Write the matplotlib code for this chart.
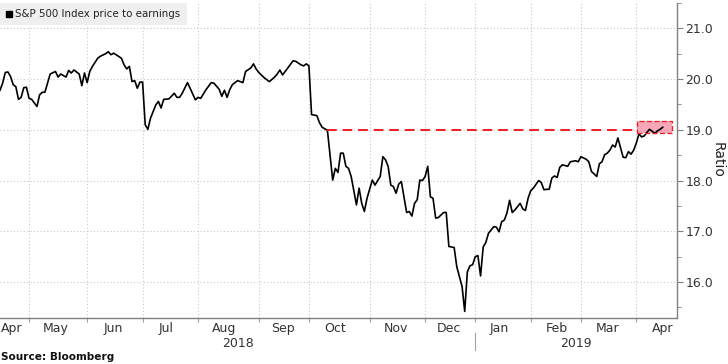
import matplotlib
matplotlib.use("Agg")
import matplotlib.pyplot as plt
import matplotlib.patches as mpatches
from matplotlib.lines import Line2D
import numpy as np
import pandas as pd

# ---- data -------------------------------------------------------------
title = "S&P 500 Index price to earnings"
source = "Source: Bloomberg"
y_label = "Ratio"
start_date = "2018-04-16"
end_date = "2019-04-30"
market_holidays = ["2018-05-28", "2018-07-04", "2018-09-03", "2018-11-22",
                   "2018-12-05", "2018-12-25", "2019-01-01", "2019-01-21",
                   "2019-02-18"]
# trading-day index from start_date
days = [0, 1, 2, 3, 4, 5, 6, 7, 8, 9, 10, 11, 12, 14, 15, 16, 17, 19, 21, 22,
        23, 25, 26, 27, 28, 30, 31, 32, 33, 34, 35, 37, 38, 40, 41, 42, 43, 44,
        46, 47, 48, 49, 50, 51, 52, 53, 54, 55, 56, 57, 59, 60, 61, 62, 64, 66,
        67, 68, 69, 71, 72, 74, 75, 76, 78, 80, 81, 83, 84, 85, 86, 87, 88, 90,
        92, 93, 95, 96, 97, 98, 100, 102, 104, 105, 106, 107, 108, 109, 111,
        112, 114, 115, 116, 117, 118, 120, 121, 122, 123, 124, 125, 126, 127,
        128, 129, 130, 131, 132, 133, 135, 136, 137, 138, 139, 141, 142, 144,
        145, 146, 147, 148, 149, 150, 151, 152, 154, 155, 156, 157, 158, 159,
        160, 161, 162, 163, 164, 165, 166, 168, 169, 170, 172, 173, 175, 176,
        177, 178, 179, 180, 181, 182, 183, 184, 185, 187, 188, 189, 190, 191,
        192, 193, 194, 195, 197, 198, 199, 200, 201, 202, 204, 205, 206, 208,
        209, 210, 211, 212, 213, 215, 216, 218, 219, 220, 222, 223, 224, 226,
        227, 228, 229, 230, 231, 232, 233, 234, 236, 237, 238, 239, 240, 241,
        242, 243, 244, 245, 246, 247, 248, 249, 250, 251]
pe_ratio = [19.78, 19.92, 20.13, 20.14, 20.05, 19.89, 19.85, 19.60, 19.64, 19.83,
            19.84, 19.62, 19.60, 19.46, 19.69, 19.74, 19.74, 20.10, 20.15, 20.04,
            20.10, 20.04, 20.17, 20.12, 20.18, 20.10, 19.87, 20.12, 19.93, 20.15,
            20.25, 20.41, 20.45, 20.50, 20.54, 20.48, 20.51, 20.48,
            20.41, 20.28, 20.20, 20.25, 19.95, 19.97, 19.82, 19.94, 19.94, 19.10,
            19.01, 19.23, 19.49, 19.56, 19.43, 19.60, 19.61, 19.72,
            19.64, 19.64, 19.72, 19.93, 19.82, 19.59, 19.64, 19.62, 19.79, 19.93,
            19.92, 19.80, 19.66, 19.78, 19.64, 19.79, 19.89, 19.97,
            19.93, 20.15, 20.22, 20.30, 20.20, 20.13, 20.03, 19.95, 20.04, 20.10,
            20.18, 20.08, 20.15, 20.22, 20.36,
            20.35, 20.28, 20.26, 20.30, 20.26, 19.30, 19.28, 19.14, 19.05, 19.02,
            18.99, 18.51, 18.01, 18.24,
            18.16, 18.54, 18.54, 18.28, 18.24, 18.08, 17.52, 17.85, 17.55, 17.39,
            17.65, 18.01, 17.91, 18.08,
            18.47, 18.41, 18.28, 17.91, 17.88, 17.75, 17.93, 17.98, 17.37, 17.39,
            17.30, 17.55, 17.62, 18.01,
            18.00, 18.08, 18.28, 17.68, 17.65, 17.26, 17.27, 17.37, 17.37, 16.70,
            16.68, 16.30, 15.91, 15.42,
            16.20, 16.32, 16.34, 16.50, 16.52, 16.12, 16.69, 16.78, 16.96, 17.09,
            17.08, 16.99, 17.19, 17.22,
            17.36, 17.61, 17.37, 17.42, 17.55, 17.44, 17.41, 17.65, 17.80, 17.85,
            18.00, 17.96, 17.82, 17.83,
            18.05, 18.09, 18.06, 18.26, 18.31, 18.28, 18.37, 18.39, 18.37, 18.47,
            18.42, 18.37, 18.18, 18.08,
            18.33, 18.37, 18.51, 18.54, 18.60, 18.70, 18.66, 18.84, 18.46, 18.45,
            18.57, 18.52, 18.60, 18.74,
            18.92, 18.86, 18.88, 18.95, 19.01, 18.97, 18.93, 18.98, 19.01, 19.05]
ref_level = 19.0
ref_start_day = 124
box_start_day = 241.4
box_end_day = 254.5
box_low = 18.93
box_high = 19.18
y_ticks = [16.0, 17.0, 18.0, 19.0, 20.0, 21.0]
x_max_day = 256.4
y_min, y_max = 15.29, 21.5

# ---- calendar ---------------------------------------------------------
cal = pd.bdate_range(start_date, end_date, freq="C", holidays=market_holidays)
cal_s = pd.Series(np.arange(len(cal)), index=cal)
month_keys = [(d.year, d.month) for d in cal]
month_first = {}
for i, k in enumerate(month_keys):
    month_first.setdefault(k, i)
months = sorted(month_first)

# ---- figure -----------------------------------------------------------
W, H = 728, 364
fig = plt.figure(figsize=(W / 100, H / 100), dpi=100)
ax = fig.add_axes([0, 1 - 318 / H, 677 / W, 315 / H])

grid_kw = dict(color="#c8c8c8", linewidth=0.8, linestyle=(0, (1, 2)))
ax.plot(days, pe_ratio, color="black", linewidth=1.2, zorder=3)
ax.plot([ref_start_day, box_start_day], [ref_level, ref_level], color="#ee1c25",
        linewidth=1.4, linestyle=(0, (5, 3)), zorder=4)
ax.add_patch(mpatches.Rectangle((box_start_day, box_low), box_end_day - box_start_day,
                                box_high - box_low, facecolor="#f58a9f", alpha=0.75,
                                edgecolor="none", zorder=2))
ax.add_patch(mpatches.Rectangle((box_start_day, box_low), box_end_day - box_start_day,
                                box_high - box_low, facecolor="none",
                                edgecolor="#ee1c25", linewidth=0.9,
                                linestyle=(0, (4, 2)), zorder=4))

ax.set_xlim(0, x_max_day)
ax.set_ylim(y_min, y_max)

# spines
for s in ["top", "left"]:
    ax.spines[s].set_visible(False)
for s in ["right", "bottom"]:
    ax.spines[s].set_color("#808080")
    ax.spines[s].set_linewidth(1.0)

# y axis on right
ax.yaxis.tick_right()
ax.set_yticks(y_ticks)
ax.set_yticklabels([f"{v:.1f}" for v in y_ticks], fontsize=9, color="#333333")
ax.set_yticks(np.arange(15.5, 21.6, 1.0), minor=True)
ax.tick_params(axis="y", which="major", length=4, color="#808080", pad=2)
ax.tick_params(axis="y", which="minor", length=3, color="#808080")
for v in y_ticks:
    ax.axhline(v, zorder=1, **grid_kw)
fig.text(718 / W, 1 - 160 / H, y_label, rotation=-90, fontsize=10,
         color="#222222", ha="center", va="center")

# x axis: month boundaries
bounds = [month_first[m] for m in months[1:] if month_first[m] < x_max_day]
ax.set_xticks(bounds)
ax.set_xticklabels([])
ax.tick_params(axis="x", length=3, color="#a0a0a0")
for b in bounds:
    ax.axvline(b, zorder=1, **grid_kw)

trans = ax.get_xaxis_transform()
for m in months:
    start_i = month_first[m]
    if start_i >= x_max_day:
        continue
    mid = cal_s[cal_s.index >= pd.Timestamp(m[0], m[1], 15)]
    pos = mid.iloc[0]
    name = pd.Timestamp(m[0], m[1], 1).strftime("%b")
    if pos < 4:
        ax.text(0.3, -0.012, name, transform=trans, ha="left", va="top",
                fontsize=9, color="#333333")
    else:
        ax.text(pos, -0.012, name, transform=trans, ha="center", va="top",
                fontsize=9, color="#333333")

jan_i = month_first[(2019, 1)]
ax.text(jan_i / 2, -0.06, "2018", transform=trans, ha="center", va="top",
        fontsize=9, color="#333333")
ax.text((jan_i + x_max_day) / 2, -0.06, "2019", transform=trans, ha="center",
        va="top", fontsize=9, color="#333333")
ax.plot([jan_i, jan_i], [-0.048, -0.1], transform=trans, color="#a0a0a0",
        linewidth=0.8, clip_on=False)

# legend box
leg = ax.legend(handles=[Line2D([], [], marker="s", color="black", linestyle="none",
                                markersize=5)],
                labels=[title], loc="upper left", bbox_to_anchor=(0, 1.0),
                borderaxespad=0, fontsize=7.4, frameon=True, fancybox=False,
                handlelength=0.6, handletextpad=0.3, borderpad=0.6)
leg.get_frame().set_facecolor("#efefef")
leg.get_frame().set_edgecolor("none")
leg.get_frame().set_alpha(1)
for t in leg.get_texts():
    t.set_color("#222222")

fig.text(1 / W, 1 - 357 / H, source, ha="left", va="center", fontsize=7.6,
         fontweight="bold", color="#111111")

fig.savefig("out.png", dpi=100, facecolor="white")
